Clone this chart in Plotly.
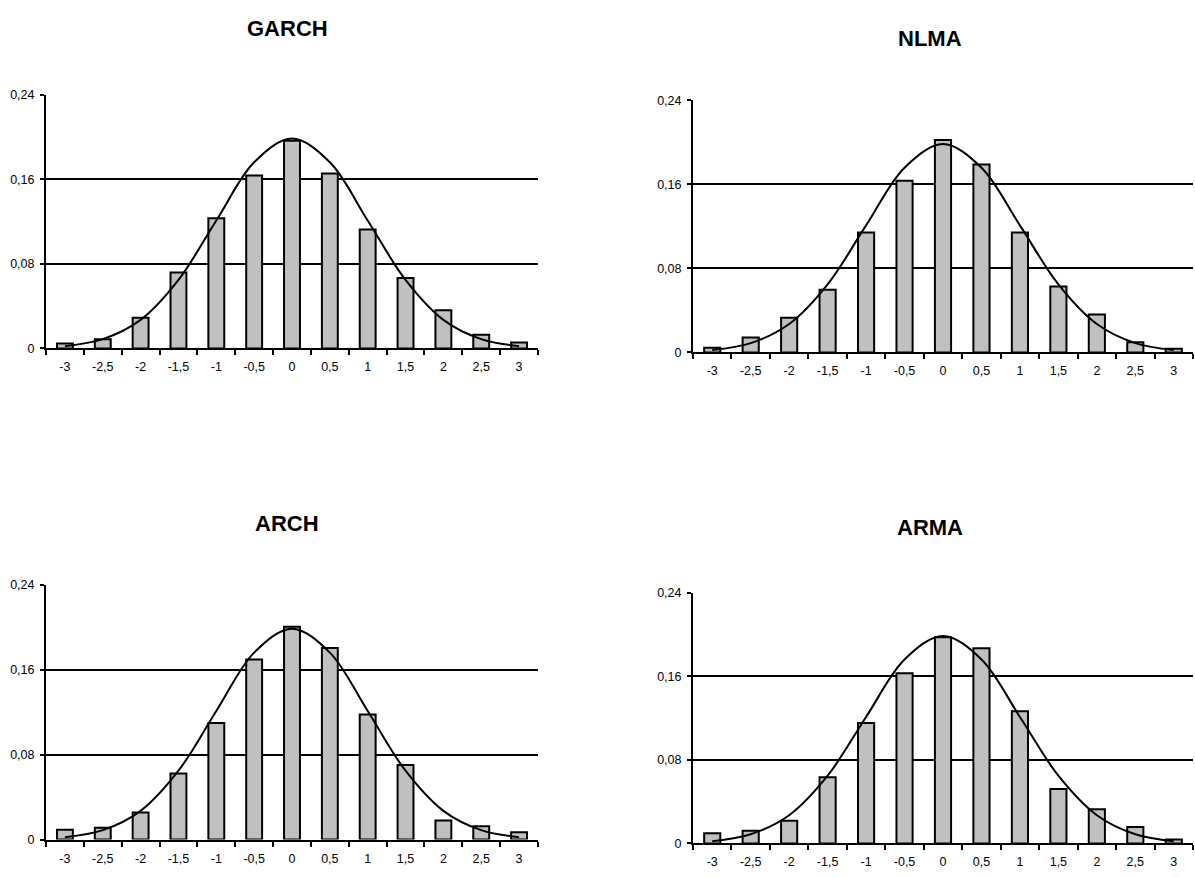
import plotly.graph_objects as go

categories = ["-3", "-2,5", "-2", "-1,5", "-1", "-0,5", "0", "0,5", "1", "1,5", "2", "2,5", "3"]

garch = [0.0046, 0.0087, 0.029, 0.0718, 0.1232, 0.1635, 0.1963, 0.1654, 0.1124, 0.0666, 0.0362, 0.013, 0.0056]
nlma = [0.0044, 0.0141, 0.0329, 0.0598, 0.1142, 0.1636, 0.2024, 0.179, 0.1142, 0.0629, 0.036, 0.0097, 0.0034]
arch = [0.0093, 0.0111, 0.0254, 0.0622, 0.1098, 0.1695, 0.2004, 0.1803, 0.1178, 0.0702, 0.0179, 0.0124, 0.0068]
arma = [0.0097, 0.0122, 0.0216, 0.0634, 0.1151, 0.1628, 0.1973, 0.1867, 0.1264, 0.0521, 0.0326, 0.0157, 0.0038]

# normal reference curve read at each category
curve = [0.0022, 0.0088, 0.027, 0.0648, 0.121, 0.176, 0.1985, 0.176, 0.121, 0.0648, 0.027, 0.0088, 0.0022]

titles = ["GARCH", "NLMA", "ARCH", "ARMA"]
series = [garch, nlma, arch, arma]

ytickvals = [0, 0.08, 0.16, 0.24]
yticktext = ["0", "0,08", "0,16", "0,24"]

W, H = 1195, 878
# plot areas in pixels: (left, right, top, bottom)
boxes = [(46, 538, 89, 347), (693, 1193, 95, 351), (46, 538, 587, 846), (693, 1193, 595, 850)]
title_pos = [(287, 22), (930, 32), (287, 525), (930, 529)]

fig = go.Figure()
font = "Liberation Sans, Arial, sans-serif"

for i, (name, vals) in enumerate(zip(titles, series)):
    xa = "x" if i == 0 else f"x{i+1}"
    ya = "y" if i == 0 else f"y{i+1}"
    fig.add_trace(go.Bar(x=categories, y=vals, xaxis=xa, yaxis=ya,
                         marker=dict(color="#C0C0C0", line=dict(color="black", width=2)),
                         showlegend=False, hoverinfo="skip"))
    fig.add_trace(go.Scatter(x=categories, y=curve, xaxis=xa, yaxis=ya, mode="lines",
                             line=dict(color="black", width=2, shape="spline", smoothing=1.0),
                             showlegend=False, hoverinfo="skip"))
    l, r, t, b = boxes[i]
    xkey = "xaxis" if i == 0 else f"xaxis{i+1}"
    ykey = "yaxis" if i == 0 else f"yaxis{i+1}"
    fig.layout[xkey] = dict(domain=[l / W, r / W], anchor=ya, type="category",
                            showline=True, linecolor="black", linewidth=2,
                            ticks="outside", ticklen=5, tickwidth=2, tickcolor="black",
                            tickson="boundaries", showgrid=False, zeroline=False,
                            ticklabelstandoff=6,
                            tickfont=dict(family=font, size=12.5, color="black"),
                            range=[-0.5, 12.5], fixedrange=True)
    fig.layout[ykey] = dict(domain=[1 - b / H, 1 - t / H], anchor=xa,
                            range=[0, 0.24], tickvals=ytickvals, ticktext=yticktext,
                            showline=True, linecolor="black", linewidth=2,
                            ticks="outside", ticklen=4, tickwidth=2, tickcolor="black",
                            showgrid=True, gridcolor="black", gridwidth=2, zeroline=False,
                            ticklabelstandoff=3,
                            tickfont=dict(family=font, size=12.5, color="black"), fixedrange=True)
    tx, ty = title_pos[i]
    fig.add_annotation(text=f"<b>{name}</b>", x=tx / W, y=1 - ty / H, xref="paper", yref="paper",
                       showarrow=False, xanchor="center", yanchor="middle",
                       font=dict(family=font, size=22, color="black"))

fig.update_layout(width=W, height=H, margin=dict(l=0, r=0, t=0, b=0),
                  paper_bgcolor="white", plot_bgcolor="white", bargap=0.58)

post = """
document.documentElement.style.margin='0';
document.documentElement.style.padding='0';
document.documentElement.style.overflow='hidden';
document.body.style.margin='0';
document.body.style.padding='0';
document.body.style.overflow='hidden';
var d=document.querySelector('.plotly-graph-div');
d.style.position='fixed'; d.style.left='0px'; d.style.top='0px';
"""

fig.write_html("out.html", config={"displayModeBar": False, "staticPlot": True}, post_script=post)
